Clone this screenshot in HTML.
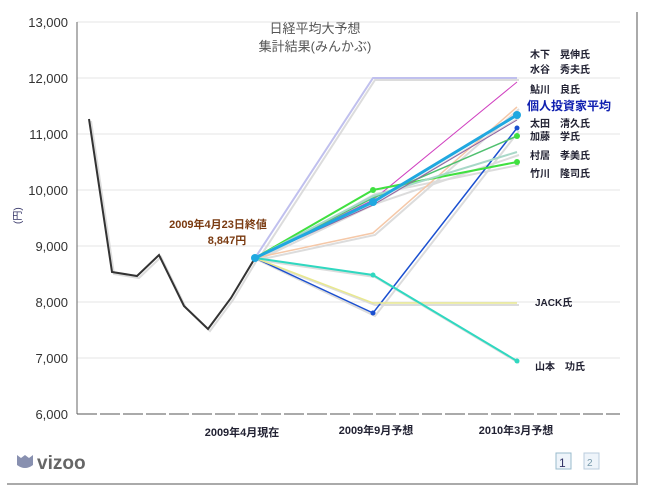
<!DOCTYPE html>
<html><head><meta charset="utf-8"><style>
body{margin:0;background:#fff;}
svg{display:block;font-family:"Liberation Sans","Noto Sans CJK JP",sans-serif;}
</style></head><body>
<svg width="647" height="496" viewBox="0 0 647 496">
<rect x="0" y="0" width="647" height="496" fill="#fff"/>
<line x1="637" y1="12" x2="637" y2="484" stroke="#aaa" stroke-width="2"/>
<line x1="7" y1="484" x2="638" y2="484" stroke="#aaa" stroke-width="2"/>
<g stroke="#e6e6e6" stroke-width="1">
<line x1="77" y1="22" x2="620" y2="22"/><line x1="77" y1="78" x2="620" y2="78"/>
<line x1="77" y1="134" x2="620" y2="134"/><line x1="77" y1="190" x2="620" y2="190"/>
<line x1="77" y1="246" x2="620" y2="246"/><line x1="77" y1="302" x2="620" y2="302"/>
<line x1="77" y1="358" x2="620" y2="358"/>
</g>
<line x1="77" y1="22" x2="77" y2="414" stroke="#666" stroke-width="1"/>
<line x1="77" y1="414" x2="620" y2="414" stroke="#555" stroke-width="1" stroke-dasharray="20,3"/>
<g fill="#333" font-size="13" text-anchor="end">
<text x="68" y="27">13,000</text><text x="68" y="83">12,000</text><text x="68" y="139">11,000</text>
<text x="68" y="195">10,000</text><text x="68" y="251">9,000</text><text x="68" y="307">8,000</text>
<text x="68" y="363">7,000</text><text x="68" y="419">6,000</text>
</g>
<text x="17" y="228" font-size="10" fill="#336" transform="rotate(-90 17 224)">(円)</text>
<text x="315" y="33" font-size="13" fill="#555" text-anchor="middle">日経平均大予想</text>
<text x="315" y="51" font-size="13" fill="#555" text-anchor="middle">集計結果(みんかぶ)</text>
<g fill="none" stroke="#d4d4d4" stroke-width="2" opacity="0.8">
<polyline points="91,121 114,274 139,278 161,257 186,308 210,331 233,300 257,260"/>
<polyline points="258,260 375,80 519,80"/>
<polyline points="258,260 375,204 519,118"/>
<polyline points="258,260 375,235 519,109"/>
<polyline points="258,260 375,316 519,131"/>
<polyline points="258,260 375,305 519,305"/>
<polyline points="258,260 375,277 519,363"/>
<polyline points="258,260 375,194 519,165"/>
<polyline points="258,260 375,204 519,155"/>
</g>
<polyline points="255,258 373,78 517,78" fill="none" stroke="#c0c0ee" stroke-width="2"/>
<polyline points="255,258 373,200 517,82" fill="none" stroke="#d040c0" stroke-width="1"/>
<polyline points="255,258 373,233 517,107" fill="none" stroke="#f5c8a8" stroke-width="1.5"/>
<polyline points="255,258 373,313 517,128" fill="none" stroke="#1a4fd0" stroke-width="1.5"/>
<polyline points="255,258 373,303 517,303" fill="none" stroke="#e8e890" stroke-width="1.5"/>
<polyline points="255,258 373,275 517,361" fill="none" stroke="#30d8c0" stroke-width="2"/>
<polyline points="255,258 373,190 517,162" fill="none" stroke="#40e040" stroke-width="2"/>
<polyline points="255,258 373,198 517,136" fill="none" stroke="#50c070" stroke-width="1.5"/>
<polyline points="255,258 373,196 517,152" fill="none" stroke="#a8d8c8" stroke-width="2"/>
<polyline points="255,258 373,205 517,120" fill="none" stroke="#9060a0" stroke-width="1"/>
<polyline points="255,258 373,202 517,115" fill="none" stroke="#20a8e0" stroke-width="3"/>
<polyline points="89,119 112,272 137,276 159,255 184,306 208,329 231,298 255,258" fill="none" stroke="#333" stroke-width="2"/>
<g fill="#20a8e0"><circle cx="255" cy="258" r="4"/><circle cx="373" cy="202" r="4"/><circle cx="517" cy="115" r="4"/></g>
<g fill="#1a4fd0"><circle cx="373" cy="313" r="2.5"/><circle cx="517" cy="128" r="2.5"/></g>
<g fill="#40e040"><circle cx="373" cy="190" r="3"/><circle cx="517" cy="162" r="3"/><circle cx="517" cy="136" r="3"/></g>
<circle cx="373" cy="275" r="2.5" fill="#30d8c0"/><circle cx="517" cy="361" r="2.5" fill="#30d8c0"/>
<g fill="#7a3a10" font-size="11" font-weight="bold" text-anchor="middle">
<text x="218" y="228">2009年4月23日終値</text><text x="227" y="244">8,847円</text>
</g>
<g fill="#223" font-size="10" font-weight="bold">
<text x="530" y="58">木下　晃伸氏</text><text x="530" y="73">水谷　秀夫氏</text>
<text x="530" y="93">鮎川　良氏</text>
<text x="527" y="110" font-size="12" fill="#1020b0">個人投資家平均</text>
<text x="530" y="127">太田　清久氏</text><text x="530" y="140">加藤　学氏</text>
<text x="530" y="159">村居　孝美氏</text><text x="530" y="177">竹川　隆司氏</text>
<text x="535" y="306">JACK氏</text><text x="535" y="370">山本　功氏</text>
</g>
<g fill="#223" font-size="11" font-weight="bold" text-anchor="middle">
<text x="242" y="436">2009年4月現在</text><text x="376" y="434">2009年9月予想</text><text x="516" y="434">2010年3月予想</text>
</g>
<path d="M17,455 L21,458 L25,455 L29,458 L33,455 L33,465 Q25,471 17,465 Z" fill="#8890b0"/>
<text x="37" y="469" font-size="19" font-weight="bold" fill="#666">vizoo</text>
<rect x="556" y="453" width="15" height="16" fill="#eef4fa" stroke="#9bc"/>
<text x="559" y="467" font-size="12" fill="#336">1</text>
<rect x="584" y="453" width="15" height="16" fill="#eef4fa" stroke="#bcd"/>
<text x="587" y="466" font-size="10" fill="#79a">2</text>
</svg>
</body></html>
